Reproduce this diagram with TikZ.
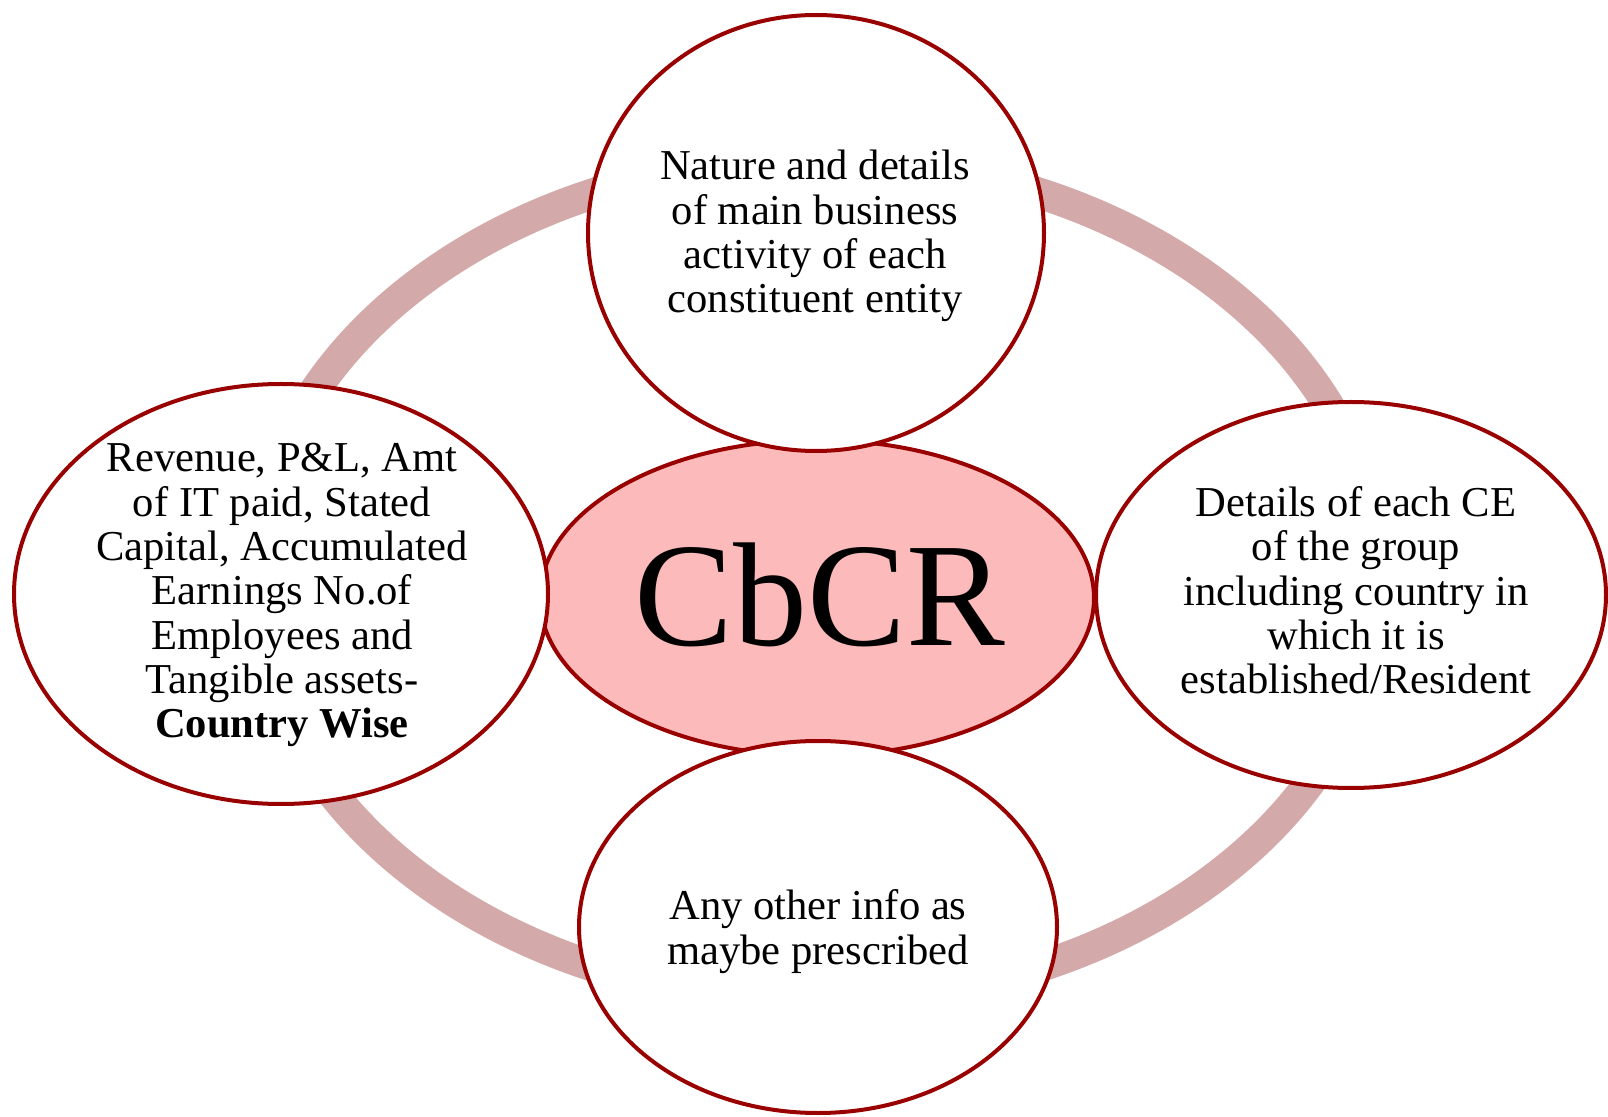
\documentclass[tikz,border=0pt]{standalone}
\usepackage{fontspec}
\setmainfont{Liberation Serif}
\usetikzlibrary{shapes.geometric}
\definecolor{ringcol}{RGB}{212,169,169}
\definecolor{bordercol}{RGB}{153,0,0}
\definecolor{corefill}{RGB}{252,186,186}
\tikzset{
  bubble/.style={ellipse, draw=bordercol, line width=2pt, fill=white, inner sep=0pt},
  core/.style={ellipse, draw=bordercol, line width=2pt, fill=corefill, inner sep=0pt},
  ringshape/.style={ellipse, draw=ringcol, line width=15.5pt, inner sep=0pt},
  txt/.style={align=center, anchor=base, inner sep=0pt, font=\fontsize{21.3}{22.2}\selectfont},
}
\begin{document}
\begin{tikzpicture}[x=0.5pt, y=-0.5pt]
\useasboundingbox (0,0) rectangle (1608,1117);
\node[ringshape, minimum width=562pt, minimum height=421pt] (ring) at (817,580) {};
\node[core, minimum width=277pt, minimum height=158pt] (core) at (817,598) {};
\node[bubble, minimum width=228pt, minimum height=218pt] (top) at (816,233) {};
\node[bubble, minimum width=267pt, minimum height=210pt] (left) at (281,594) {};
\node[bubble, minimum width=255pt, minimum height=193pt] (right) at (1351,595) {};
\node[bubble, minimum width=239pt, minimum height=186pt] (bottom) at (818,927) {};
\node[anchor=base, inner sep=0pt, font=\fontsize{74}{80}\selectfont] (coretxt) at (820,646) {CbCR};
\node[txt] (toptxt) at (815,313) {Nature and details\\of main business\\activity of each\\constituent entity};
\node[txt] (lefttxt) at (282,738) {Revenue, P\&L, Amt\\of IT paid, Stated\\Capital, Accumulated\\Earnings No.of\\Employees and\\Tangible assets-\\\textbf{Country Wise}};
\node[txt] (righttxt) at (1356,694) {Details of each CE\\of the group\\including country in\\which it is\\established/Resident};
\node[txt] (bottomtxt) at (818,964) {Any other info as\\maybe prescribed};
\end{tikzpicture}
\end{document}
